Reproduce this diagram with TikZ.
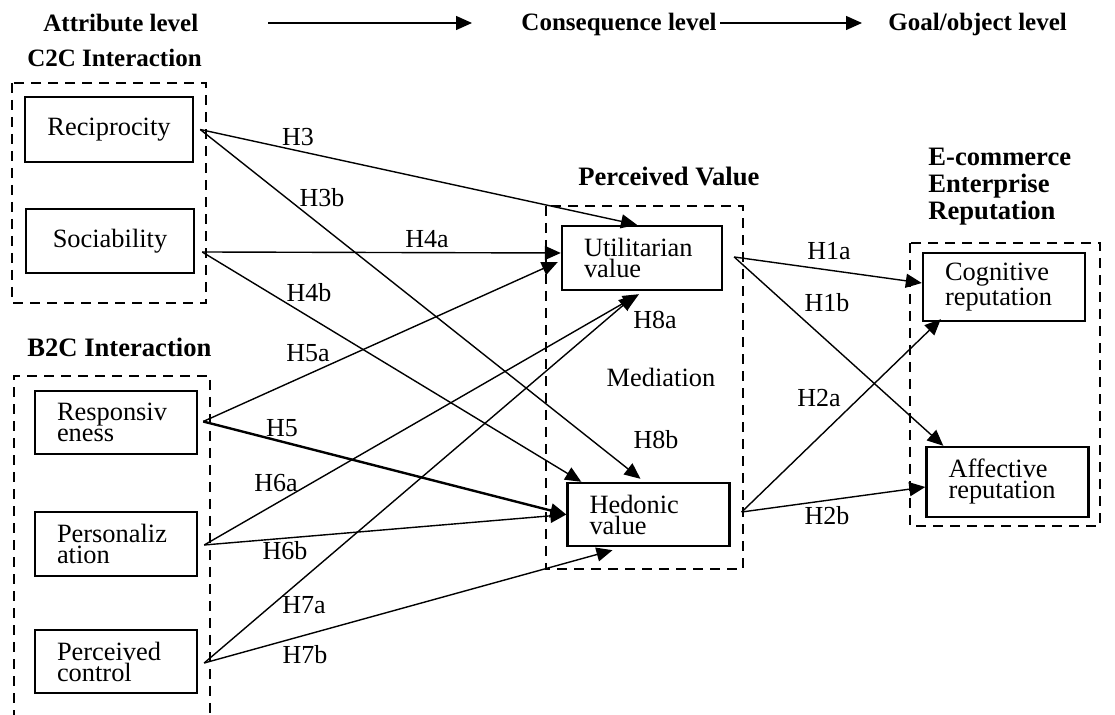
\documentclass[tikz,border=0pt]{standalone}
\usepackage{fontspec}
\setmainfont{Liberation Serif}
\usetikzlibrary{arrows.meta,calc}
\tikzset{
  >={Triangle[length=8pt,width=7pt]},
  link/.style={->, line width=0.7pt},
  boldlink/.style={link, line width=1.2pt},
  frame/.style={draw, line width=1.2pt, inner xsep=11pt, inner ysep=0pt,
    font=\fontsize{13.2}{10.5}\selectfont},
  cbox/.style={frame, align=center, minimum width=84pt},
  lbox/.style={frame, align=left, text width=59pt},
  group/.style={draw, line width=1pt, dash pattern=on 5pt off 3.5pt},
  head/.style={font=\bfseries\fontsize{12.5}{13.5}\selectfont, inner sep=0pt},
  bighead/.style={head, font=\bfseries\fontsize{13.3}{13.5}\selectfont},
  hlab/.style={font=\fontsize{13}{14}\selectfont, inner sep=1pt}
}
\begin{document}
\begin{tikzpicture}[x=0.5pt,y=-0.5pt]
  \useasboundingbox (0,0) rectangle (1115,715);
  % level headings
  \node[head,anchor=base west] (attr) at (43,32) {Attribute level};
  \node[head,anchor=base east] (cons) at (717,31) {Consequence level};
  \node[head,anchor=base west] (goal) at (888,31) {Goal/object level};
  \coordinate (a1s) at (268,23);
  \coordinate (a1e) at (472,23);
  \coordinate (a2s) at (720,23);
  \coordinate (a2e) at (862,23);
  \draw[link] (a1s) -- (a1e);
  \draw[link] (a2s) -- (a2e);

  % group titles
  \node[head,anchor=base west] (c2c) at (27,67) {C2C Interaction};
  \node[bighead,anchor=base west] (b2c) at (27,357) {B2C Interaction};
  \node[bighead,anchor=base west] (pv) at (578,186) {Perceived Value};
  \node[bighead,anchor=north west,align=left] (rep) at (928,148) {E-commerce\\Enterprise\\Reputation};

  % dashed groups
  \draw[group] (12,83) rectangle (206,303);
  \draw[group] (14,720) |- (210,376) -- (210,720);
  \draw[group] (546,206) rectangle (743,569);
  \draw[group] (910,243) rectangle (1100,526);

  % constructs
  \node[cbox,minimum height=32.5pt] (rec) at (109,129.5) {Reciprocity};
  \node[cbox,minimum height=32pt] (soc) at (110,241) {Sociability};
  \node[lbox,minimum height=31.5pt] (resp) at (116,422.5) {Responsiv\\eness};
  \node[lbox,minimum height=32pt] (pers) at (116,544) {Personaliz\\ation};
  \node[lbox,minimum height=31.5pt] (pctrl) at (116,661.5) {Perceived\\control};
  \node[lbox,minimum height=32pt,text width=58pt] (util) at (642,258) {Utilitarian\\value};
  \node[lbox,minimum height=31.5pt] (hed) at (648.5,514.5) {Hedonic\\value};
  \node[lbox,minimum height=34pt] (cog) at (1004,287) {Cognitive\\reputation};
  \node[lbox,minimum height=35pt] (aff) at (1007.5,482) {Affective\\reputation};
  \node[hlab,font=\fontsize{13.2}{14}\selectfont] (med) at (661,377) {Mediation};

  % start points
  \coordinate (rec-o) at ($(rec.east)+(6,0)$);
  \coordinate (soc-o) at ($(soc.east)+(7,11)$);
  \coordinate (resp-o) at ($(resp.east)+(5,-1)$);
  \coordinate (pers-o) at ($(pers.east)+(6,1)$);
  \coordinate (pctrl-o) at ($(pctrl.east)+(6,1.5)$);
  \coordinate (util-o) at ($(util.east)+(11,-1)$);
  \coordinate (hed-o) at ($(hed.east)+(11,-2.5)$);

  % hypotheses
  \draw[link] (rec-o) -- ($(util.north)+(-5,0)$);
  \draw[link] (rec-o) -- ($(hed.north)+(-8,-3)$);
  \draw[link] (soc-o) -- ($(util.west)+(0,-5)$);
  \draw[link] (soc-o) -- ($(hed.north west)+(15,0)$);
  \draw[link] (resp-o) -- ($(util.west)+(-3,4)$);
  \draw[boldlink] (resp-o) -- (hed.west);
  \draw[link] (pers-o) -- ($(util.south)+(-3,3)$);
  \draw[link] (pers-o) -- (hed.west);
  \draw[link] (pctrl-o) -- ($(util.south)+(-7,4)$);
  \draw[link] (pctrl-o) -- ($(hed.south)+(-36,3)$);
  \draw[link] (util-o) -- ($(cog.west)+(0,-4)$);
  \draw[link] (util-o) -- ($(aff.north west)+(18,0)$);
  \draw[link] (hed-o) -- ($(cog.south west)+(19,-3)$);
  \draw[link] (hed-o) -- ($(aff.west)+(0,5)$);

  \foreach \name/\x/\y in {H3/298/137, H3b/322/198, H4a/427/239, H4b/309/293,
      H5a/308/353, H5/282/428, H6a/276/483, H6b/285/551, H7a/304/605, H7b/305/655,
      H8a/655/320, H8b/656/440, H1a/829/251, H1b/827/303, H2a/819/398, H2b/827/516}
    \node[hlab] (lab-\name) at (\x,\y) {\name};
\end{tikzpicture}
\end{document}
